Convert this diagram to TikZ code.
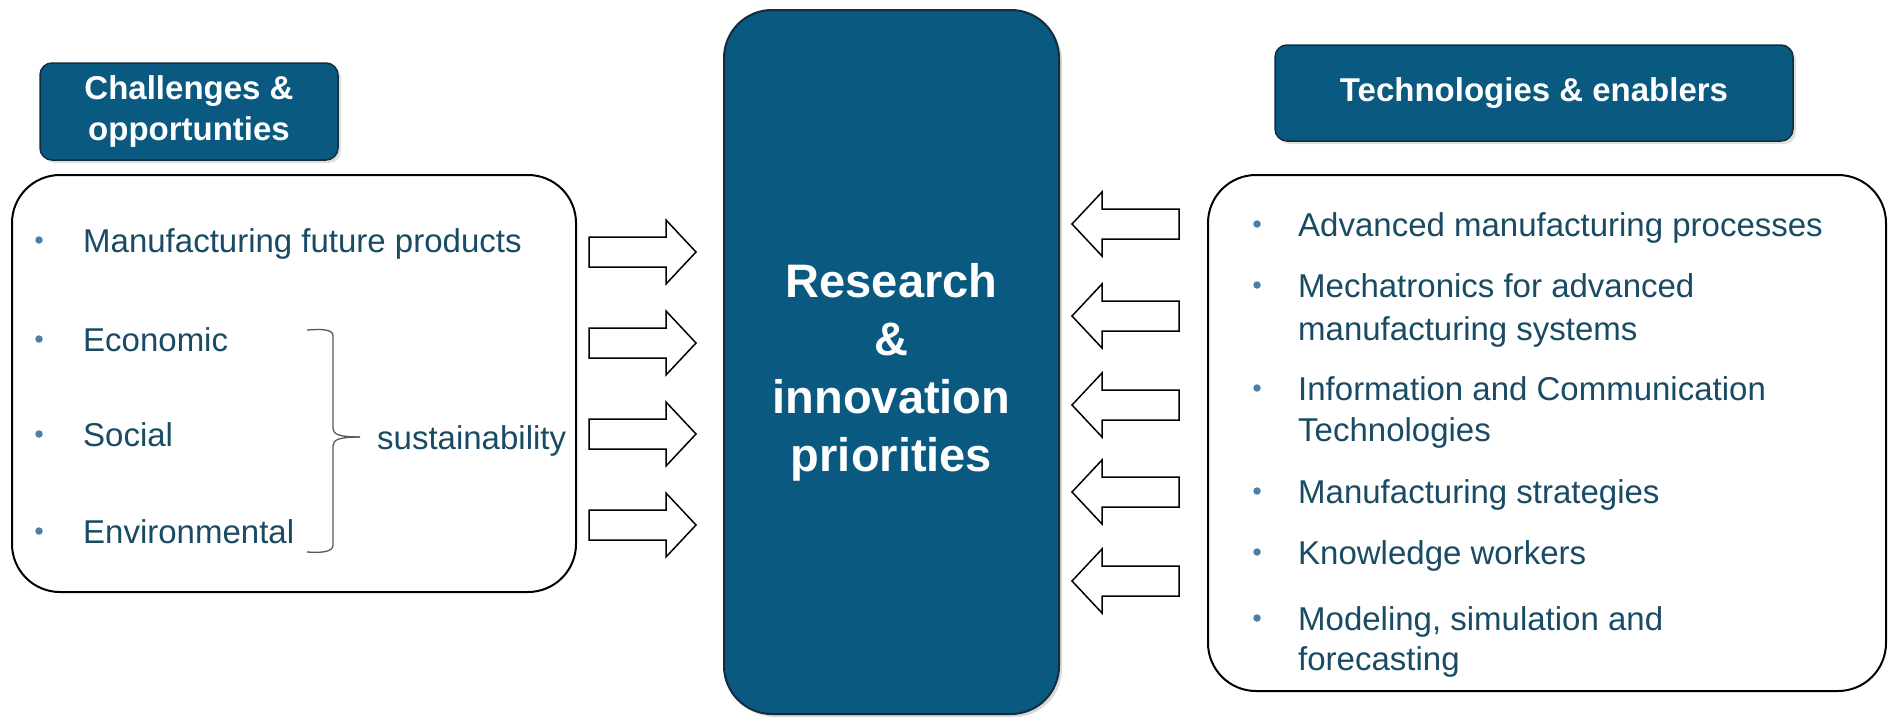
\documentclass[tikz,border=0pt]{standalone}
\usepackage{fontspec}
\setmainfont{Liberation Sans}
\usetikzlibrary{shadows}
\definecolor{boxblue}{RGB}{9,89,128}
\definecolor{boxedge}{RGB}{20,45,60}
\definecolor{txt}{RGB}{25,75,100}
\definecolor{bul}{RGB}{74,127,168}
\begin{document}
\begin{tikzpicture}[x=1pt,y=-1pt,
  hdr/.style={draw=boxedge, line width=1.5pt, fill=boxblue, rounded corners=12pt, text=white,
    font=\fontsize{33}{41}\selectfont\bfseries, align=center, inner sep=0pt,
    drop shadow={shadow xshift=3pt, shadow yshift=-3pt, opacity=0.25}},
  panel/.style={draw=black, line width=2pt, rounded corners=48pt, fill=white, inner sep=0pt},
  item/.style={anchor=base west, text=txt, font=\fontsize{33}{43}\selectfont, inner sep=0pt},
  dot/.style={circle, fill=bul, inner sep=0pt, minimum size=7.5pt},
  barrow/.style={draw=black, line width=1.5pt, fill=white, line join=miter},
  bracestyle/.style={draw=black!65, line width=1.3pt},
]
\useasboundingbox (0,0) rectangle (1891,720);

% panels
\node[panel, minimum width=564pt, minimum height=417pt] (lp) at (294,383.5) {};
\node[panel, minimum width=678pt, minimum height=516pt] (rp) at (1547,433) {};

% headers
\node[hdr, minimum width=298pt, minimum height=97pt] (ch) at (189,111.5) {Challenges \&\\opportunties};
\node[hdr, minimum width=518pt, minimum height=96pt] (te) at (1534,93) {Technologies \& enablers};

% center box
\node[draw=boxedge, line width=2pt, fill=boxblue, rounded corners=48pt,
  minimum width=335pt, minimum height=704pt, inner sep=0pt,
  drop shadow={shadow xshift=3pt, shadow yshift=-3pt, opacity=0.3}] (cb) at (891.5,362) {};
\node[text=white, font=\fontsize{47}{58}\selectfont\bfseries, align=center, inner sep=0pt]
  (ct) at (891.5,372) {Research\\\&\\innovation\\priorities};

% left items
\node[dot] (lb1) at (39,240) {};
\node[item] (l1) at (83,252) {Manufacturing future products};
\node[dot] (lb2) at (39,339) {};
\node[item] (l2) at (83,351) {Economic};
\node[dot] (lb3) at (39,434) {};
\node[item] (l3) at (83,446) {Social};
\node[dot] (lb4) at (39,531) {};
\node[item] (l4) at (83,543) {Environmental};

% brace
\draw[bracestyle] (307,330) .. controls (322,329) and (333,329) .. (333,336) -- (333,428)
  .. controls (333,434) and (338,437) .. (360,437);
\draw[bracestyle] (360,437) .. controls (338,437) and (333,440) .. (333,446) -- (333,545)
  .. controls (333,552) and (322,553) .. (307,552);
\node[item] (sus) at (377,449) {sustainability};

% right items
\node[dot] (rb1) at (1257,224) {};
\node[item] (r1) at (1298,236) {Advanced manufacturing processes};
\node[dot] (rb2) at (1257,285) {};
\node[item] (r2a) at (1298,297) {Mechatronics for advanced};
\node[item] (r2b) at (1298,340) {manufacturing systems};
\node[dot] (rb3) at (1257,388) {};
\node[item] (r3a) at (1298,400) {Information and Communication};
\node[item] (r3b) at (1298,441) {Technologies};
\node[dot] (rb4) at (1257,491) {};
\node[item] (r4) at (1298,503) {Manufacturing strategies};
\node[dot] (rb5) at (1257,552) {};
\node[item] (r5) at (1298,564) {Knowledge workers};
\node[dot] (rb6) at (1257,618) {};
\node[item] (r6a) at (1298,630) {Modeling, simulation and};
\node[item] (r6b) at (1298,670) {forecasting};

% block arrows into center (right-pointing)
\foreach \y in {252,343,434,525} {
  \draw[barrow] (589,\y-15) -- (666,\y-15) -- (666,\y-32) -- (696,\y) -- (666,\y+32)
    -- (666,\y+15) -- (589,\y+15) -- cycle;
}
% block arrows into center (left-pointing)
\foreach \y in {224,316,405,492,581} {
  \draw[barrow] (1179,\y-15) -- (1102,\y-15) -- (1102,\y-32) -- (1072,\y) -- (1102,\y+32)
    -- (1102,\y+15) -- (1179,\y+15) -- cycle;
}
\end{tikzpicture}
\end{document}
